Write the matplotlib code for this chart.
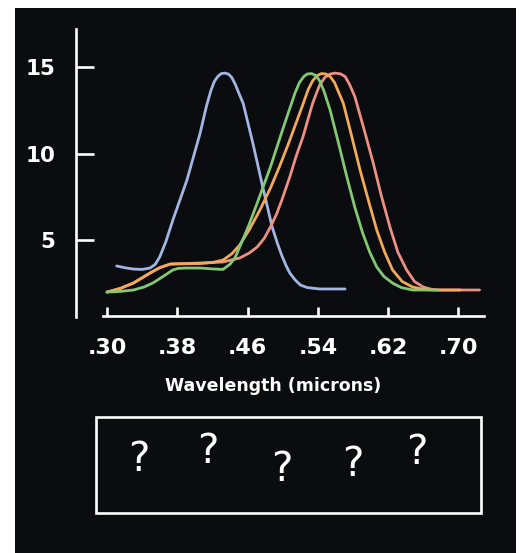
import matplotlib
matplotlib.use("Agg")
import matplotlib.pyplot as plt
from matplotlib.patches import Rectangle

# cone sensitivity curves (wavelength in microns)
blue_x = [0.311, 0.320, 0.330, 0.340, 0.349, 0.355, 0.360, 0.367, 0.375, 0.391,
          0.406, 0.413, 0.418, 0.422, 0.426, 0.430, 0.434, 0.438, 0.442, 0.446,
          0.450, 0.455, 0.466, 0.478, 0.488, 0.494, 0.499, 0.504, 0.508, 0.514,
          0.520, 0.528, 0.542, 0.571]
blue_y = [3.50, 3.40, 3.32, 3.30, 3.38, 3.6, 4.02, 4.9, 6.16, 8.47,
          11.18, 12.7, 13.6, 14.15, 14.45, 14.62, 14.65, 14.6, 14.4, 14.0,
          13.5, 12.9, 10.6, 7.9, 5.75, 4.8, 4.1, 3.5, 3.1, 2.7,
          2.4, 2.25, 2.17, 2.17]

green_x = [0.300, 0.315, 0.330, 0.342, 0.352, 0.364, 0.375, 0.381, 0.390, 0.406,
           0.420, 0.432, 0.440, 0.446, 0.451, 0.461, 0.471, 0.486, 0.500, 0.508,
           0.514, 0.519, 0.524, 0.528, 0.533, 0.538, 0.542, 0.547, 0.554, 0.563,
           0.573, 0.582, 0.591, 0.599, 0.607, 0.615, 0.625, 0.635, 0.648, 0.676]
green_y = [1.99, 2.03, 2.11, 2.28, 2.51, 2.9, 3.27, 3.36, 3.38, 3.38,
           3.33, 3.30, 3.6, 4.0, 4.60, 5.8, 7.14, 9.22, 11.4, 12.6,
           13.5, 14.1, 14.45, 14.6, 14.62, 14.5, 14.2, 13.6, 12.5, 10.7,
           8.64, 6.9, 5.40, 4.3, 3.44, 2.9, 2.51, 2.25, 2.11, 2.11]

orange_x = [0.300, 0.315, 0.330, 0.349, 0.360, 0.372, 0.390, 0.406, 0.420, 0.432,
            0.442, 0.451, 0.462, 0.474, 0.486, 0.497, 0.506, 0.514, 0.522, 0.529,
            0.534, 0.539, 0.544, 0.549, 0.554, 0.559, 0.564, 0.569, 0.578, 0.588,
            0.598, 0.607, 0.616, 0.625, 0.636, 0.648, 0.660, 0.671, 0.702]
orange_y = [1.99, 2.2, 2.51, 3.09, 3.4, 3.61, 3.63, 3.64, 3.7, 3.84,
            4.2, 4.71, 5.6, 6.73, 8.0, 9.33, 10.5, 11.6, 12.7, 13.7,
            14.2, 14.5, 14.62, 14.6, 14.45, 14.1, 13.5, 12.9, 11.1, 9.05,
            7.2, 5.58, 4.3, 3.27, 2.6, 2.28, 2.15, 2.11, 2.11]

pink_x = [0.300, 0.315, 0.330, 0.349, 0.360, 0.372, 0.390, 0.406, 0.432, 0.451,
          0.462, 0.471, 0.479, 0.486, 0.493, 0.499, 0.508, 0.515, 0.523, 0.534,
          0.542, 0.548, 0.554, 0.560, 0.566, 0.571, 0.576, 0.582, 0.592, 0.603,
          0.612, 0.622, 0.631, 0.641, 0.650, 0.660, 0.670, 0.679, 0.724]
pink_y = [1.99, 2.2, 2.51, 3.09, 3.4, 3.61, 3.64, 3.67, 3.73, 3.96,
          4.25, 4.60, 5.1, 5.75, 6.5, 7.31, 8.64, 9.8, 10.96, 12.9,
          13.96, 14.4, 14.6, 14.65, 14.6, 14.45, 14.0, 13.3, 11.5, 9.45,
          7.6, 5.75, 4.3, 3.27, 2.6, 2.28, 2.14, 2.11, 2.11]

x_ticks = [0.30, 0.38, 0.46, 0.54, 0.62, 0.70]
x_tick_labels = [".30", ".38", ".46", ".54", ".62", ".70"]
y_ticks = [5, 10, 15]
y_tick_labels = ["5", "10", "15"]
marks = ["?", "?", "?", "?", "?"]

W, H = 519, 553
fig = plt.figure(figsize=(W / 100, H / 100), dpi=100, facecolor="white")
bg = "#0a0c10"
fig.patches.append(Rectangle((15 / W, 0), (516 - 15) / W, (H - 8) / H,
                             transform=fig.transFigure, facecolor=bg,
                             edgecolor="none", zorder=-10))

# axes box in pixels: x 70..490, y 25..330
ax = fig.add_axes([70 / W, 1 - 330 / H, 420 / W, 305 / H])
ax.set_zorder(5)
ax.set_facecolor("none")
ax.set_xlim(0.2579, 0.7359)
ax.set_ylim(-0.202, 17.43)

lw = 2.0
style = dict(lw=lw, solid_capstyle="round", solid_joinstyle="round")
ax.plot(blue_x, blue_y, color="#a3b6e3", **style)
ax.plot(pink_x, pink_y, color="#ee8f84", **style)
ax.plot(orange_x, orange_y, color="#f3a95a", **style)
ax.plot(green_x, green_y, color="#84c873", **style)

for s in ["top", "right"]:
    ax.spines[s].set_visible(False)
ax.spines["left"].set_position(("data", 0.2647))
ax.spines["left"].set_bounds(0.55, 17.2)
ax.spines["bottom"].set_position(("data", 0.607))
ax.spines["bottom"].set_bounds(0.2954, 0.729)
for s in ["left", "bottom"]:
    ax.spines[s].set_color("white")
    ax.spines[s].set_linewidth(1.9)

ax.set_xticks(x_ticks)
ax.set_xticklabels(x_tick_labels)
ax.set_yticks(y_ticks)
ax.set_yticklabels(y_tick_labels)
ax.tick_params(axis="x", direction="in", length=6.5, width=1.9, color="white",
               labelcolor="white", labelsize=16, pad=16)
ax.tick_params(axis="y", direction="in", length=13, width=1.9, color="white",
               labelcolor="white", labelsize=15.5, pad=15)
for t in ax.get_xticklabels() + ax.get_yticklabels():
    t.set_fontweight("bold")

fig.text(273 / W, 1 - 386 / H, "Wavelength (microns)", color="white",
         fontsize=12.5, fontweight="bold", ha="center", va="center")

# box with the question marks
fig.patches.append(Rectangle((96 / W, 1 - 513 / H), 385 / W, 96 / H,
                             transform=fig.transFigure, facecolor="none",
                             edgecolor="white", lw=1.9, zorder=2))
q_pos = [(139, 460), (208, 452), (282, 470), (353, 465), (417, 453)]
for m, (px, py) in zip(marks, q_pos):
    fig.text(px / W, 1 - py / H, m, color="white", fontsize=29,
             ha="center", va="center")

fig.savefig("out.png", dpi=100, facecolor=fig.get_facecolor())
